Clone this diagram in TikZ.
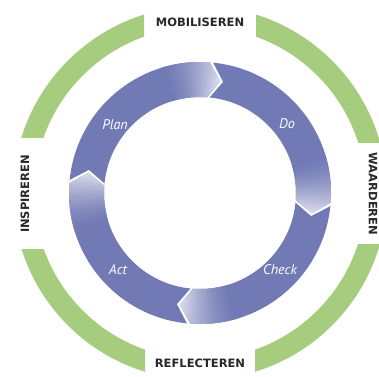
\documentclass[tikz,border=0pt]{standalone}
\usepackage{fontspec}
\setmainfont{PT Sans}
\newfontfamily\labelfont{DejaVu Sans}
\usetikzlibrary{calc}
\definecolor{ringblue}{RGB}{113,122,180}
\definecolor{ringgreen}{RGB}{166,205,125}
\definecolor{labelgray}{RGB}{40,40,40}
\begin{document}
\begin{tikzpicture}[x=1pt,y=1pt,
  ringlabel/.style={text=labelgray, font=\labelfont\bfseries\fontsize{11.5}{12}\selectfont, inner sep=0pt},
  steplabel/.style={text=white, font=\itshape\fontsize{14}{14}\selectfont, inner sep=0pt}]
\fill[white] (0,0) rectangle (379,376);
\useasboundingbox (0,0) rectangle (379,376);
\coordinate (C) at (200,183);
% green outer ring, four segments
\foreach \ax/\ay/\bx/\by in {56/51/220/220, -56/56/-220/220, -55/-56/-220/-220, 55/-51/220/-220}{
  \begin{scope}
    \clip ($(C)+(\ax,\ay)$) rectangle ($(C)+(\bx,\by)$);
    \fill[ringgreen, even odd rule] (C) circle[radius=187pt] (C) circle[radius=166pt];
  \end{scope}
}
% blue PDCA arrows
\def\Ro{131pt}\def\Ri{96pt}\def\Rm{113.5pt}\def\g{0.75}\def\dl{6}
\begin{scope}[shift={(C)}]
\foreach \T/\H in {175/85, 85/-5, -5/-95, -95/-185}{
  \begin{scope}
    \clip (\T-\g:\Ro) arc[start angle=\T-\g, end angle=\H+\g, radius=\Ro]
      -- (\H+\g-\dl:\Rm) -- (\H+\g:\Ri)
      arc[start angle=\H+\g, end angle=\T-\g, radius=\Ri]
      -- (\T-\g-\dl:\Rm) -- cycle;
    \fill[ringblue] (0,0) circle[radius=140pt];
    \foreach \k in {0,...,28}{
      \pgfmathsetmacro\a{\H+22-\k}
      \pgfmathtruncatemacro\p{100-80*(\k/28)^1.5}
      \fill[ringblue!\p!white] (0,0) -- (\a:140pt) arc[start angle=\a, end angle=\a-1.3, radius=140pt] -- cycle;
    }
  \end{scope}
}
\end{scope}
% labels
\node[ringlabel] (mob) at (200,354) {MOBILISEREN};
\node[ringlabel] (ref) at (200,13) {REFLECTEREN};
\node[ringlabel, rotate=90] (ins) at (25,182) {INSPIREREN};
\node[ringlabel, rotate=-90] (waa) at (373,182) {WAARDEREN};
\node[steplabel] (plan) at (115,251) {Plan};
\node[steplabel] (do) at (287,252) {Do};
\node[steplabel] (check) at (280,106) {Check};
\node[steplabel] (act) at (118,106) {Act};
\end{tikzpicture}
\end{document}
